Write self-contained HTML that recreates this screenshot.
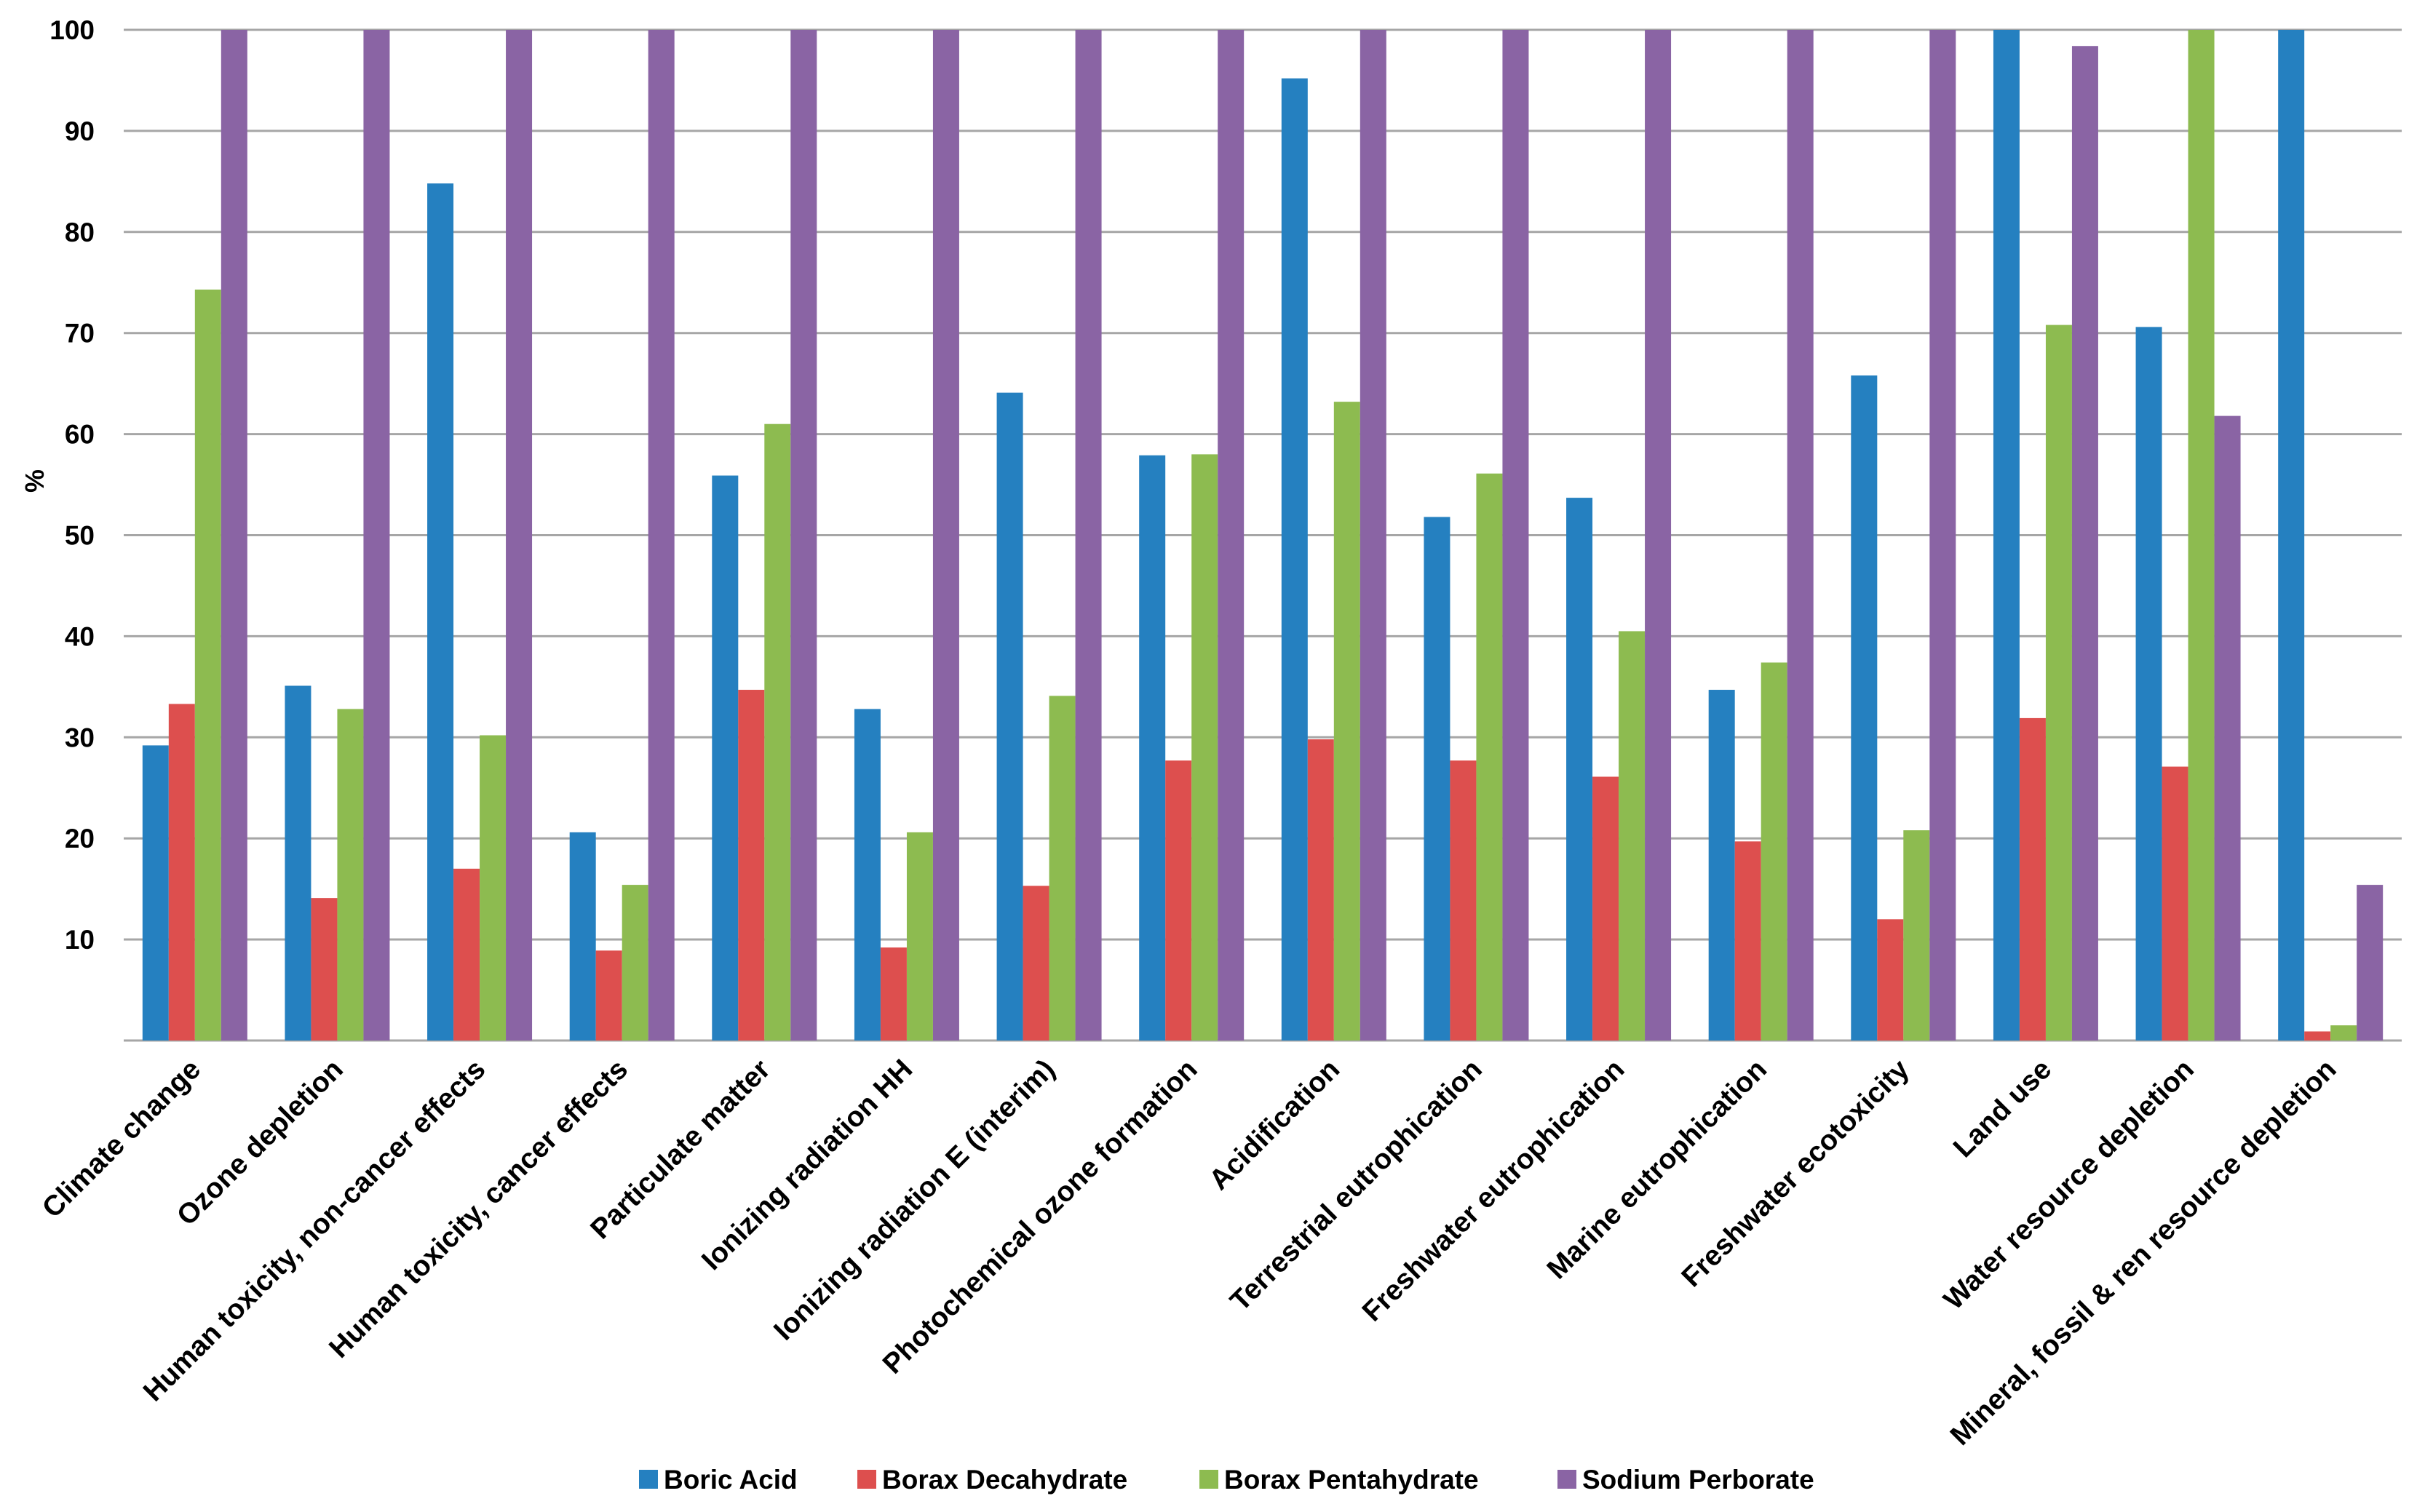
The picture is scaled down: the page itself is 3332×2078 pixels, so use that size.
<!DOCTYPE html>
<html><head><meta charset="utf-8"><style>
html,body{margin:0;padding:0;background:#fff;}
svg{display:block;font-family:"Liberation Sans",sans-serif;font-weight:bold;}
</style></head><body>
<svg id="chart" width="3332" height="2078" viewBox="0 0 3332 2078" xmlns="http://www.w3.org/2000/svg">
<g id="grid"></g>
<g id="bars"></g>
<g id="yticks"></g>
<g id="xlabels"></g>
<text x="0" y="0" transform="translate(60,661) rotate(-90)" text-anchor="middle" font-size="36" fill="#000">%</text>
<g id="legend"></g>
</svg>
<script>
const categories = ["Climate change","Ozone depletion","Human toxicity, non-cancer effects","Human toxicity, cancer effects","Particulate matter","Ionizing radiation HH","Ionizing radiation E (interim)","Photochemical ozone formation","Acidification","Terrestrial eutrophication","Freshwater eutrophication","Marine eutrophication","Freshwater ecotoxicity","Land use","Water resource depletion","Mineral, fossil & ren resource depletion"];
const seriesNames = ["Boric Acid","Borax Decahydrate","Borax Pentahydrate","Sodium Perborate"];
const boricAcid = [29.2,35.1,84.8,20.6,55.9,32.8,64.1,57.9,95.2,51.8,53.7,34.7,65.8,100,70.6,100];
const boraxDeca = [33.3,14.1,17.0,8.9,34.7,9.2,15.3,27.7,29.8,27.7,26.1,19.7,12.0,31.9,27.1,0.9];
const boraxPenta = [74.3,32.8,30.2,15.4,61.0,20.6,34.1,58.0,63.2,56.1,40.5,37.4,20.8,70.8,100,1.5];
const sodiumPerborate = [100,100,100,100,100,100,100,100,100,100,100,100,100,98.4,61.8,15.4];
const yTicks = [10,20,30,40,50,60,70,80,90,100];

const series=[boricAcid,boraxDeca,boraxPenta,sodiumPerborate];
const colors=["#2580c0","#dd4f4e","#8dbb50","#8a64a4"];
const NS="http://www.w3.org/2000/svg";
const L=170,R=3300,T=41,B=1430;
const y=v=>B-(v/100)*(B-T);
const cw=(R-L)/categories.length;
const bw=36;
const x=(i,s)=>L+cw*i+cw/2-2*bw+s*bw;
function mk(t,a,p){const e=document.createElementNS(NS,t);for(const k in a)e.setAttribute(k,a[k]);p.appendChild(e);return e;}
const grid=document.getElementById('grid');
yTicks.forEach(t=>{
  const l=mk('line',{x1:L,x2:R,y1:y(t),y2:y(t),stroke:'#a6a6a6','stroke-width':3},grid);
  
  
});
const ax=mk('line',{x1:L,x2:R,y1:B,y2:B,stroke:'#a6a6a6','stroke-width':3},grid);


const bars=document.getElementById('bars');
series.forEach((arr,s)=>{
  arr.forEach((v,i)=>{
    const r=mk('rect',{x:x(i,s),y:y(v),width:bw,height:B-y(v),fill:colors[s]},bars);
    
    
  });
});
const yt=document.getElementById('yticks');
yTicks.forEach(t=>{
  const e=mk('text',{x:130,y:y(t)+13,'text-anchor':'end','font-size':37,fill:'#000'},yt);
  e.textContent=t;
  
  
});
const xl=document.getElementById('xlabels');
categories.forEach((c,i)=>{
  const cx=L+cw*i+cw/2+10, cy=B+42;
  const e=mk('text',{x:0,y:0,transform:`translate(${cx},${cy}) rotate(-45)`,'text-anchor':'end','font-size':39,fill:'#000'},xl);
  e.textContent=c;
  
  
});
const lg=document.getElementById('legend');
const lx=[878,1178,1648,2140];
seriesNames.forEach((n,s)=>{
  const r=mk('rect',{x:lx[s],y:2020,width:26,height:26,fill:colors[s]},lg);
  
  
  const t=mk('text',{x:lx[s]+34,y:2046,'font-size':37,fill:'#000'},lg);
  t.textContent=n;
  
  
});
</script>
</body></html>
